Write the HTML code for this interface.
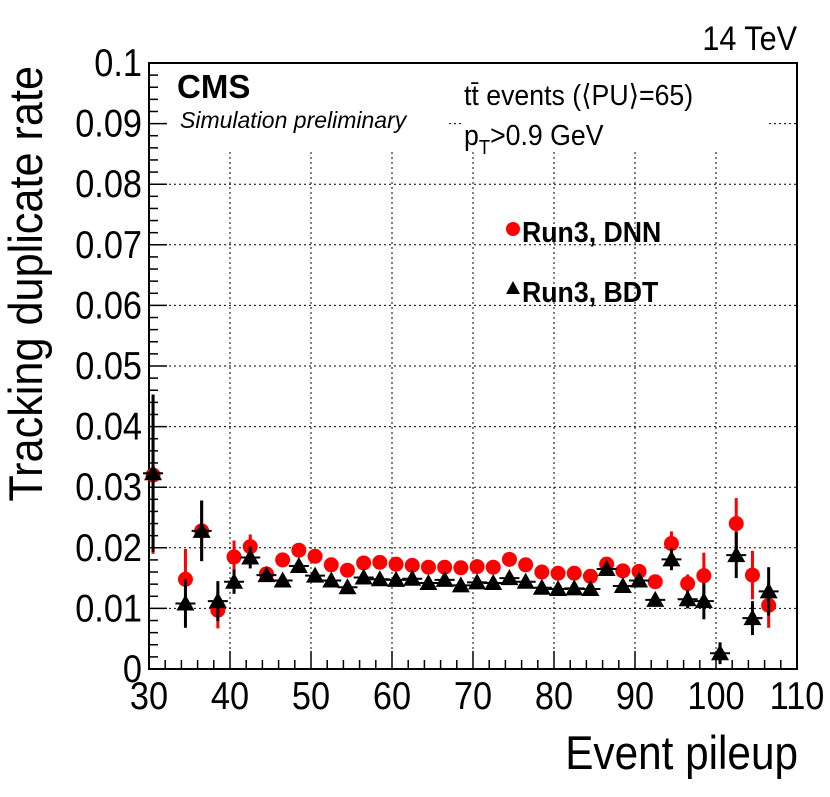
<!DOCTYPE html>
<html><head><meta charset="utf-8"><style>
html,body{margin:0;padding:0;background:#fff;}
svg{display:block;font-family:"Liberation Sans",Arial,sans-serif;}
</style></head><body>
<svg id="chart" width="830" height="797" viewBox="0 0 830 797" xmlns="http://www.w3.org/2000/svg">
<g id="grid"></g>
<rect x="150" y="64" width="299" height="88" fill="#fff"/>
<rect x="462" y="64" width="304" height="88" fill="#fff"/>
<g id="axes"></g>
<g id="marks"></g>
<text transform="translate(797,50) scale(0.9,1)" font-size="34" text-anchor="end">14 TeV</text>
<text x="177" y="98" font-size="33" font-weight="bold">CMS</text>
<text x="180" y="128" font-size="23" font-style="italic">Simulation preliminary</text>
<text transform="translate(464,105) scale(0.92,1)" font-size="29">tt̄ events (⟨PU⟩=65)</text>
<text transform="translate(464,145) scale(0.92,1)" font-size="29">p<tspan font-size="20" dy="9">T</tspan><tspan dy="-9">&gt;0.9 GeV</tspan></text>
<g>
<circle cx="513" cy="229" r="7" fill="#ff0000"/>
<text transform="translate(522,242) scale(0.92,1)" font-size="29" font-weight="bold">Run3, DNN</text>
<polygon points="513,281 506,294 520,294" fill="#000"/>
<text transform="translate(522,302) scale(0.92,1)" font-size="29" font-weight="bold">Run3, BDT</text>
</g>
<text transform="translate(798,769) scale(0.9,1)" font-size="47" text-anchor="end">Event pileup</text>
<text transform="translate(42,66) rotate(-90) scale(0.92,1)" font-size="47" text-anchor="end">Tracking duplicate rate</text>
</svg>
<script>
const xCenters=[30.5,34.5,36.5,38.5,40.5,42.5,44.5,46.5,48.5,50.5,52.5,54.5,56.5,58.5,60.5,62.5,64.5,66.5,68.5,70.5,72.5,74.5,76.5,78.5,80.5,82.5,84.5,86.5,88.5,90.5,92.5,94.5,96.5,98.5,100.5,102.5,104.5,106.5];
const dnnValues=[0.032,0.0148,0.0228,0.0097,0.0185,0.0202,0.0157,0.0180,0.0196,0.0186,0.0172,0.0163,0.0175,0.0176,0.0173,0.0171,0.0168,0.0168,0.0167,0.0169,0.0168,0.0181,0.0172,0.0160,0.0158,0.0158,0.0153,0.0173,0.0162,0.0161,0.0144,0.0207,0.0141,0.0154,null,0.0240,0.0155,0.0105];
const dnnErrors=[0.013,0.005,0.005,0.003,0.0027,0.002,0.0008,0.0008,0.0008,0.0008,0.0008,0.0008,0.0008,0.0008,0.0008,0.0008,0.0008,0.0008,0.0008,0.0008,0.0008,0.0008,0.0008,0.0008,0.0008,0.0008,0.0008,0.0008,0.0008,0.0008,0.001,0.002,0.0015,0.0038,0,0.0042,0.004,0.0037];
const bdtValues=[0.0323,0.0108,0.0228,0.0112,0.0144,0.0184,0.0155,0.0146,0.0170,0.0154,0.0146,0.0135,0.0151,0.0148,0.0147,0.0149,0.0142,0.0147,0.0138,0.0143,0.0142,0.0150,0.0144,0.0134,0.0132,0.0133,0.0132,0.0165,0.0137,0.0146,0.0114,0.0181,0.0115,0.0112,0.0026,0.0188,0.0084,0.0128];
const bdtErrors=[0.013,0.004,0.005,0.0033,0.002,0.0018,0.0008,0.0008,0.0008,0.0008,0.0008,0.0008,0.0008,0.0008,0.0008,0.0008,0.0008,0.0008,0.0008,0.0008,0.0008,0.0008,0.0008,0.0008,0.0008,0.0008,0.0008,0.0008,0.0008,0.0008,0.001,0.0018,0.0015,0.003,0.0018,0.0038,0.0028,0.004];
const xTickLabels=["30","40","50","60","70","80","90","100","110"];
const yTickLabels=["0","0.01","0.02","0.03","0.04","0.05","0.06","0.07","0.08","0.09","0.1"];

const L=149,R=797,T=63,B=669,XMIN=30,XMAX=110,YMAX=0.1;
const sx=v=>L+(v-XMIN)/(XMAX-XMIN)*(R-L);
const sy=v=>B-v/YMAX*(B-T);
const NS="http://www.w3.org/2000/svg";
function mk(tag,attrs,parent){const e=document.createElementNS(NS,tag);for(const k in attrs)e.setAttribute(k,attrs[k]);parent.appendChild(e);return e;}
const grid=document.getElementById('grid'),axes=document.getElementById('axes'),marks=document.getElementById('marks');

xTickLabels.forEach(t=>{const v=+t;const x=sx(v);
 if(v>XMIN&&v<XMAX){const g=mk('line',{x1:x,x2:x,y1:152,y2:B,stroke:'#000','stroke-width':1,'stroke-dasharray':'2,3'},grid);
 
 }
 const tl=mk('line',{x1:x,x2:x,y1:B,y2:B-18,stroke:'#000','stroke-width':1.5},axes);
 
 
 const tx=mk('text',{transform:`translate(${x},709) scale(0.88,1)`,'font-size':39,'text-anchor':'middle'},axes);tx.textContent=t;
 
 
});
for(let v=XMIN+2;v<XMAX;v+=2){if(v%10===0)continue;const x=sx(v);
 const m=mk('line',{x1:x,x2:x,y1:B,y2:B-9,stroke:'#000','stroke-width':1.5},axes);
 
 }
yTickLabels.forEach(t=>{const v=+t;const y=sy(v);
 if(v>0&&v<YMAX){const g=mk('line',{x1:L,x2:R,y1:y,y2:y,stroke:'#000','stroke-width':1,'stroke-dasharray':'2,3'},grid);
 
 }
 const tl=mk('line',{x1:L,x2:L+18,y1:y,y2:y,stroke:'#000','stroke-width':1.5},axes);
 
 
 const tx=mk('text',{transform:`translate(142,${y+13}) scale(0.88,1)`,'font-size':39,'text-anchor':'end'},axes);tx.textContent=t;
 
 
});
for(let i=1;i<50;i++){if(i%5===0)continue;const y=sy(i*0.002);
 const m=mk('line',{x1:L,x2:L+9,y1:y,y2:y,stroke:'#000','stroke-width':1.5},axes);
 
 }
const fr=mk('rect',{x:L,y:T,width:R-L,height:B-T,fill:'none',stroke:'#000','stroke-width':2},axes);



xCenters.forEach((xc,i)=>{const x=sx(xc);
 if(dnnValues[i]!==null){const v=dnnValues[i],e=dnnErrors[i];
  const el=mk('line',{x1:x,x2:x,y1:sy(v-e),y2:sy(Math.min(v+e,YMAX)),stroke:'#ff0000','stroke-width':3},marks);
  
  
  const c=mk('circle',{cx:x,cy:sy(v),r:7.5,fill:'#ff0000'},marks);
  
  }
});
xCenters.forEach((xc,i)=>{const x=sx(xc);const v=bdtValues[i],e=bdtErrors[i];const y=sy(v);
 const el=mk('line',{x1:x,x2:x,y1:sy(v-e),y2:sy(Math.min(v+e,YMAX)),stroke:'#000','stroke-width':3},marks);
 
 
 const h=mk('line',{x1:x-10,x2:x+10,y1:y,y2:y,stroke:'#000','stroke-width':2},marks);
 
 
 const p=mk('polygon',{points:`${x},${y-9} ${x-9},${y+7} ${x+9},${y+7}`,fill:'#000'},marks);
 
 
});
</script>
</body></html>
